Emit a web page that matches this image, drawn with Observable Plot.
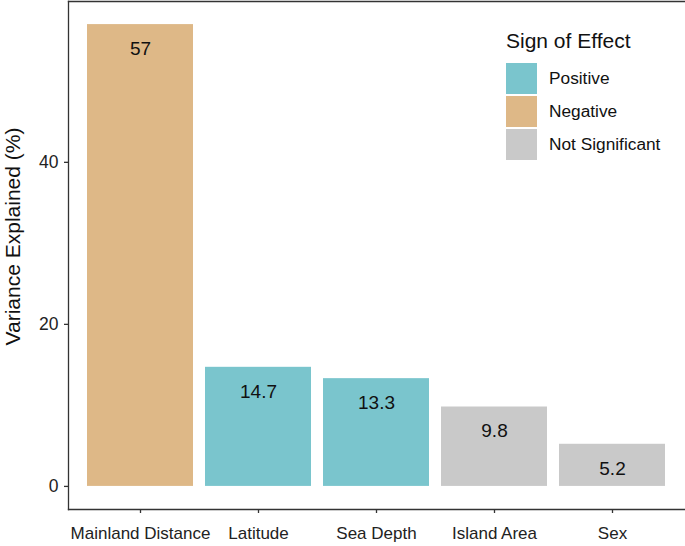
<!DOCTYPE html>
<html>
<head>
<meta charset="utf-8">
<script src="https://cdn.jsdelivr.net/npm/d3@7"></script>
<script src="https://cdn.jsdelivr.net/npm/@observablehq/plot@0.6"></script>
<style>
  html, body { margin: 0; padding: 0; background: #fff; }
  #wrap { position: relative; width: 685px; height: 546px; font-family: "Liberation Sans", Arial, sans-serif; }
  #legend { position: absolute; left: 506px; top: 29px; color: #111; }
  #legend .title { font-size: 21px; height: 33px; line-height: 24px; }
  #legend .row { display: flex; align-items: center; height: 33px; font-size: 17.3px; }
  #legend .sw { width: 31px; height: 31px; margin-right: 12px; }
</style>
</head>
<body>
<div id="wrap"><div id="chart"></div><div id="legend"></div></div>
<script>
const categories = ["Mainland Distance", "Latitude", "Sea Depth", "Island Area", "Sex"];
const values = [57, 14.7, 13.3, 9.8, 5.2];
const signs = ["Negative", "Positive", "Positive", "Not Significant", "Not Significant"];
const signLevels = ["Positive", "Negative", "Not Significant"];
const signColors = ["#7AC5CD", "#DEB887", "#C9C9C9"];
const yTicks = [0, 20, 40];
const legendTitle = "Sign of Effect";
const yLabel = "Variance Explained (%)";

const data = categories.map((c, i) => ({category: c, value: values[i], sign: signs[i]}));
const ymin = -0.05 * d3.max(values), ymax = d3.max(values) * 1.05;
const font = "Liberation Sans, Arial, sans-serif";

const chart = Plot.plot({
  width: 685,
  height: 546,
  marginLeft: 68,
  marginRight: 0,
  marginTop: 1,
  marginBottom: 37,
  style: {fontFamily: font, background: "#fff"},
  x: {domain: categories, paddingInner: 0.1, paddingOuter: 0.15, label: null},
  y: {domain: [ymin, ymax], label: null},
  color: {domain: signLevels, range: signColors},
  marks: [
    Plot.barY(data, {x: "category", y: "value", fill: "sign"}),
    Plot.text(data, {x: "category", y: d => d.value - 3, text: d => String(d.value), fontSize: 19, fill: "#111"}),
    Plot.frame({anchor: "left", stroke: "#333", strokeWidth: 1.3}),
    Plot.frame({anchor: "top", stroke: "#333", strokeWidth: 1.3}),
    Plot.frame({anchor: "bottom", stroke: "#333", strokeWidth: 1.3}),
    Plot.axisY(yTicks, {tickSize: 4, tickPadding: 6, fontSize: 17.5, fill: "#222", stroke: "#333", strokeWidth: 1.3, label: null}),
    Plot.axisX({tickSize: 4, tickPadding: 13, fontSize: 17, fill: "#222", stroke: "#333", strokeWidth: 1.3, label: null}),
    Plot.text([yLabel], {frameAnchor: "left", textAnchor: "middle", rotate: -90, dx: -55, dy: -19, fontSize: 21, fill: "#111"})
  ]
});
document.getElementById("chart").appendChild(chart);

const legend = document.getElementById("legend");
const t = document.createElement("div");
t.className = "title"; t.textContent = legendTitle;
legend.appendChild(t);
signLevels.forEach((s, i) => {
  const row = document.createElement("div"); row.className = "row";
  const sw = document.createElement("div"); sw.className = "sw"; sw.style.background = signColors[i];
  const lab = document.createElement("span"); lab.textContent = s;
  row.appendChild(sw); row.appendChild(lab);
  legend.appendChild(row);
});
</script>
</body>
</html>
